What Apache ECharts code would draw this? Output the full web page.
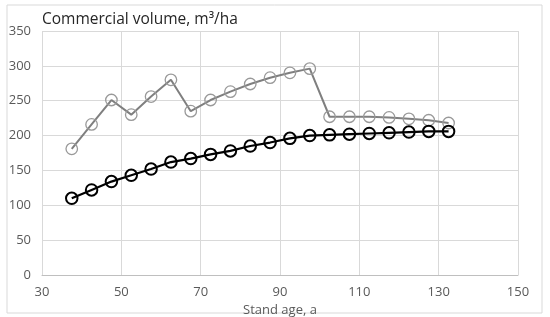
<!DOCTYPE html>
<html>
<head>
<meta charset="utf-8">
<script src="https://cdn.jsdelivr.net/npm/echarts@6/dist/echarts.min.js"></script>
<style>
  html, body { margin: 0; padding: 0; background: #fff; }
  #chart { width: 550px; height: 317px; }
</style>
</head>
<body>
<div id="chart"></div>
<script>
const standAge = [37.5, 42.5, 47.5, 52.5, 57.5, 62.5, 67.5, 72.5, 77.5, 82.5, 87.5, 92.5, 97.5, 102.5, 107.5, 112.5, 117.5, 122.5, 127.5, 132.5];
const grayVolume = [181, 216, 251, 230, 256, 280, 235, 251, 263, 274, 283, 290, 296, 227, 227, 227, 226, 224, 222, 218];
const blackVolume = [110, 122, 134, 143, 152, 162, 167, 173, 178, 185, 190, 196, 200, 201, 202, 203, 204, 205, 206, 206];

const font = "'Open Sans', 'Liberation Sans', sans-serif";
const labelColor = "#595959";

const chart = echarts.init(document.getElementById("chart"));
chart.setOption({
  animation: false,
  backgroundColor: "#fff",
  textStyle: { fontFamily: font },
  graphic: [
    {
      type: "rect",
      shape: { x: 7, y: 5, width: 535, height: 308 },
      style: { fill: "none", stroke: "#d9d9d9", lineWidth: 1 },
      silent: true
    },
    {
      type: "text",
      left: 42,
      top: 12,
      style: { text: "Commercial volume, m³/ha", fontSize: 15.5, fill: "#262626", fontFamily: font }
    }
  ],
  grid: { left: 42, right: 32, top: 31, bottom: 42, outerBoundsMode: "none" },
  xAxis: {
    type: "value",
    min: 30,
    max: 150,
    interval: 20,
    name: "Stand age, a",
    nameLocation: "middle",
    nameGap: 17,
    nameTextStyle: { color: labelColor, fontSize: 13, fontFamily: font },
    axisLine: { lineStyle: { color: "#bfbfbf" } },
    axisTick: { show: false },
    axisLabel: { color: labelColor, fontSize: 13, margin: 11 },
    splitLine: { show: true, lineStyle: { color: "#d9d9d9" } }
  },
  yAxis: {
    type: "value",
    min: 0,
    max: 350,
    interval: 50,
    axisLine: { show: false },
    axisTick: { show: false },
    axisLabel: { color: labelColor, fontSize: 13, margin: 11 },
    splitLine: { lineStyle: { color: "#d9d9d9" } }
  },
  series: [
    {
      type: "line",
      data: standAge.map((x, i) => [x, grayVolume[i]]),
      symbol: "circle",
      symbolSize: 11.5,
      lineStyle: { color: "#7f7f7f", width: 2 },
      itemStyle: { color: "transparent", borderColor: "#999999", borderWidth: 1.3 }
    },
    {
      type: "line",
      data: standAge.map((x, i) => [x, blackVolume[i]]),
      symbol: "circle",
      symbolSize: 11.5,
      lineStyle: { color: "#000", width: 2.2 },
      itemStyle: { color: "transparent", borderColor: "#000", borderWidth: 2 }
    }
  ]
});
</script>
</body>
</html>
